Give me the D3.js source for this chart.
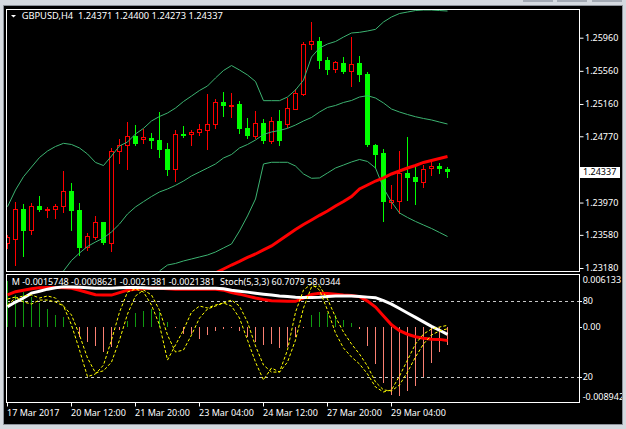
<!DOCTYPE html>
<html>
<head>
<meta charset="utf-8">
<script src="https://cdn.jsdelivr.net/npm/d3@7"></script>
<style>
html,body{margin:0;padding:0;background:#d4d9df;overflow:hidden;}
svg{display:block;}
text{font-family:"Noto Sans",sans-serif;fill:#fff;}
</style>
</head>
<body>
<svg id="chart" width="626" height="429"></svg>
<script>
// ---------- DATA ----------
const symbolLabel = "GBPUSD,H4";
const open  = [1.23482,1.23527,1.23892,1.23635,1.23929,1.23877,1.23889,1.23925,1.24113,1.23880,1.23430,1.23558,1.23732,1.23478,1.24589,1.24661,1.24770,1.24741,1.24749,1.24725,1.24617,1.24372,1.24798,1.24794,1.24818,1.24850,1.24915,1.25184,1.25140,1.25160,1.24870,1.24777,1.24927,1.24717,1.24955,1.24915,1.25103,1.25284,1.25888,1.25920,1.25691,1.25586,1.25658,1.25562,1.25658,1.25522,1.24661,1.24568,1.23981,1.23993,1.24323,1.24279,1.24222,1.24391,1.24411,1.24371];
const high  = [1.23579,1.23973,1.23949,1.23965,1.24049,1.23913,1.23953,1.24355,1.24206,1.23965,1.23599,1.23808,1.23736,1.24625,1.24741,1.24942,1.24903,1.24854,1.24810,1.25060,1.24685,1.24842,1.24894,1.24846,1.24918,1.25280,1.25220,1.25305,1.25289,1.25196,1.24991,1.25075,1.24979,1.24999,1.25087,1.25229,1.25337,1.25908,1.26150,1.25968,1.25727,1.25679,1.25727,1.25968,1.25739,1.25542,1.24677,1.24617,1.24182,1.24592,1.24761,1.24399,1.24423,1.24500,1.24448,1.24400];
const low   = [1.23422,1.23216,1.23325,1.23594,1.23868,1.23796,1.23784,1.23856,1.23639,1.23334,1.23398,1.23534,1.23470,1.23389,1.24444,1.24379,1.24669,1.24693,1.24632,1.24524,1.24303,1.24234,1.24758,1.24669,1.24789,1.24620,1.24874,1.25019,1.25006,1.24813,1.24753,1.24746,1.24693,1.24685,1.24665,1.24886,1.25099,1.25268,1.25824,1.25598,1.25525,1.25542,1.25534,1.25381,1.25441,1.24653,1.24396,1.23748,1.23908,1.23848,1.24005,1.23956,1.24162,1.24306,1.24327,1.24273];
const close = [1.23554,1.23892,1.23630,1.23925,1.23880,1.23896,1.23929,1.24110,1.23868,1.23425,1.23567,1.23732,1.23478,1.24592,1.24661,1.24770,1.24677,1.24761,1.24717,1.24608,1.24367,1.24794,1.24774,1.24822,1.24854,1.24915,1.25180,1.25139,1.25148,1.24858,1.24777,1.24927,1.24717,1.24951,1.24717,1.25108,1.25289,1.25884,1.25917,1.25679,1.25570,1.25663,1.25546,1.25639,1.25513,1.24665,1.24544,1.23977,1.24005,1.24323,1.24270,1.24222,1.24375,1.24411,1.24375,1.24337];

const bbUpper = [1.23920,1.24122,1.24282,1.24399,1.24514,1.24592,1.24647,1.24685,1.24671,1.24629,1.24556,1.24454,1.24417,1.24532,1.24653,1.24701,1.24798,1.24866,1.24955,1.25009,1.25051,1.25111,1.25190,1.25256,1.25323,1.25377,1.25474,1.25564,1.25624,1.25570,1.25510,1.25431,1.25200,1.25200,1.25200,1.25244,1.25329,1.25449,1.25727,1.25836,1.25884,1.25914,1.25968,1.26017,1.26025,1.26041,1.26061,1.26150,1.26210,1.26252,1.26270,1.26288,1.26294,1.26294,1.26288,1.26282];
const bbMiddle = [null,null,null,null,null,null,1.23011,1.23144,1.23271,1.23361,1.23440,1.23494,1.23542,1.23615,1.23711,1.23832,1.23917,1.23981,1.24043,1.24098,1.24134,1.24178,1.24230,1.24291,1.24339,1.24387,1.24436,1.24508,1.24550,1.24629,1.24671,1.24725,1.24792,1.24822,1.24840,1.24866,1.24906,1.24955,1.24997,1.25063,1.25118,1.25142,1.25178,1.25202,1.25244,1.25260,1.25232,1.25172,1.25099,1.25063,1.25033,1.25006,1.24985,1.24967,1.24942,1.24918];
const bbLower = [null,null,null,null,null,null,null,null,null,null,null,null,null,null,null,null,null,null,1.23035,1.23144,1.23216,1.23235,1.23265,1.23289,1.23313,1.23337,1.23373,1.23422,1.23470,1.23627,1.23808,1.24013,1.24436,1.24456,1.24456,1.24456,1.24411,1.24315,1.24263,1.24267,1.24327,1.24387,1.24423,1.24460,1.24490,1.24466,1.24387,1.24146,1.23977,1.23844,1.23790,1.23742,1.23699,1.23657,1.23609,1.23560];
const maLine = [null,null,null,null,null,null,null,null,null,null,null,null,null,null,null,null,null,null,null,null,null,null,null,null,null,1.23072,1.23120,1.23168,1.23216,1.23259,1.23307,1.23349,1.23398,1.23446,1.23512,1.23579,1.23645,1.23705,1.23760,1.23816,1.23868,1.23929,1.23983,1.24043,1.24134,1.24182,1.24230,1.24267,1.24315,1.24351,1.24387,1.24417,1.24454,1.24478,1.24502,1.24526];

const histValues = [0.00545,0.00381,0.00409,0.00351,0.00281,0.00214,0.00144,0.00117,0.00010,-0.00117,-0.00175,-0.00227,-0.00292,-0.00234,-0.00040,0.00077,0.00164,0.00187,0.00214,0.00175,0.00058,-0.00008,-0.00087,-0.00078,-0.00137,-0.00098,-0.00047,-0.00020,-0.00008,-0.00047,-0.00117,-0.00175,-0.00215,-0.00195,-0.00242,-0.00234,-0.00117,-0.00008,0.00138,0.00180,0.00167,0.00140,0.00085,0.00043,-0.00020,-0.00227,-0.00441,-0.00655,-0.00803,-0.00811,-0.00753,-0.00694,-0.00585,-0.00421,-0.00297,-0.0021381];
const redLine = [0.00381,0.00418,0.00436,0.00454,0.00465,0.00468,0.00468,0.00465,0.00459,0.00436,0.00409,0.00383,0.00378,0.00378,0.00407,0.00436,0.00448,0.00454,0.00459,0.00459,0.00454,0.00448,0.00448,0.00448,0.00448,0.00448,0.00448,0.00436,0.00407,0.00389,0.00366,0.00343,0.00325,0.00311,0.00307,0.00304,0.00304,0.00343,0.00386,0.00401,0.00397,0.00389,0.00378,0.00372,0.00360,0.00307,0.00237,0.00132,0.00027,-0.00043,-0.00084,-0.00113,-0.00131,-0.00143,-0.00145,-0.0015748];
const whiteLine = [0.00241,0.00296,0.00343,0.00401,0.00424,0.00448,0.00465,0.00475,0.00475,0.00471,0.00465,0.00459,0.00459,0.00459,0.00465,0.00468,0.00468,0.00465,0.00459,0.00459,0.00459,0.00459,0.00459,0.00459,0.00459,0.00459,0.00459,0.00454,0.00436,0.00424,0.00413,0.00401,0.00389,0.00378,0.00366,0.00360,0.00354,0.00351,0.00351,0.00354,0.00360,0.00366,0.00366,0.00366,0.00360,0.00354,0.00348,0.00313,0.00272,0.00220,0.00167,0.00115,0.00062,0.00009,-0.00037,-0.0008621];
const stochMain = [76.6,82.1,83.7,84.5,82.1,83.7,82.1,75.8,61.0,41.4,20.5,22.6,29.6,49.2,71.0,86.8,89.2,86.8,76.6,61.0,33.5,45.3,57.1,71.0,75.8,74.3,76.6,78.2,75.8,66.4,49.2,31.9,17.9,27.3,24.1,41.4,71.0,88.4,93.1,88.4,72.6,54.7,42.9,35.9,30.4,22.6,12.4,8.5,10.1,21.0,33.5,46.1,53.9,57.8,59.4,60.7079];
const stochSignal = [81.3,82.9,79.0,77.4,80.5,80.5,79.0,75.8,68.8,53.1,35.1,23.4,25.1,31.9,49.2,69.5,83.7,88.4,84.5,72.6,53.1,39.8,41.4,53.1,66.4,73.5,75.8,78.2,80.5,75.8,63.3,44.5,29.6,24.1,24.1,31.9,49.2,74.3,90.8,91.6,81.3,67.2,55.5,46.1,38.2,28.8,16.3,10.1,9.3,14.0,24.1,35.9,46.1,53.1,56.3,58.0344];

const timeTickIndex  = [0, 8, 16, 24, 32, 40, 48];
const timeTickLabels = ["17 Mar 2017","20 Mar 12:00","21 Mar 20:00","23 Mar 04:00","24 Mar 12:00","27 Mar 20:00","29 Mar 04:00"];
const priceTicks = [1.23180,1.23580,1.23970,1.24770,1.25160,1.25560,1.25960];
const macdRange = [-0.008942, 0.006133];
const stochLevels = [80, 20];

// ---------- LAYOUT ----------
const svg = d3.select("#chart");
const PL = 7, PR = 579, MT = 10, MB = 271, IT = 275, IB = 402;
const n = open.length;

const x = d3.scaleLinear().domain([0, n - 1]).range([7, 7 + 8 * (n - 1)]);
const y = d3.scaleLinear().domain([1.2318, 1.2596]).range([268, 37.7]);
const yMacd = d3.scaleLinear().domain(macdRange).range([402.83, 275.17]);
const yStoch = d3.scaleLinear().domain([0, 100]).range([402.83, 275.17]);

const defs = svg.append("defs");
defs.append("clipPath").attr("id","clipMain").append("rect").attr("x",PL).attr("y",MT).attr("width",PR-PL).attr("height",MB-MT);
defs.append("clipPath").attr("id","clipInd").append("rect").attr("x",PL).attr("y",IT).attr("width",PR-PL).attr("height",IB-IT);
defs.append("clipPath").attr("id","clipAll").append("rect").attr("x",4).attr("y",6).attr("width",618).attr("height",418);

// window decorations
[[523,30],[557,30],[592,30]].forEach(([bx,bw]) =>
  svg.append("rect").attr("x",bx).attr("y",0).attr("width",bw).attr("height",2).attr("fill","#a3aab4"));
svg.append("rect").attr("x",3.5).attr("y",5.5).attr("width",619).attr("height",419)
  .attr("fill","#000").attr("stroke","#8d939b");

const all = svg.append("g").attr("clip-path","url(#clipAll)");

// ---------- MAIN PANEL ----------
const gMain = all.append("g").attr("clip-path","url(#clipMain)");
const gC = gMain.append("g").attr("shape-rendering","crispEdges");
open.forEach((o, i) => {
  const c = Math.round(x(i)), cx = c + 0.5;
  const hi = Math.round(y(high[i])), lo = Math.round(y(low[i]));
  const top = Math.round(y(Math.max(o, close[i]))), bot = Math.round(y(Math.min(o, close[i])));
  const bull = close[i] >= o;
  const col = bull ? "#ff0000" : "#00ff00";
  gC.append("line").attr("x1",cx).attr("x2",cx).attr("y1",hi).attr("y2",lo+1).attr("stroke",col);
  if (bull && bot - top >= 2) {
    gC.append("rect").attr("x",c-1.5).attr("y",top+0.5).attr("width",4).attr("height",bot-top)
      .attr("fill","#000").attr("stroke",col);
  } else {
    gC.append("rect").attr("x",c-2).attr("y",top).attr("width",5).attr("height",Math.max(1,bot-top+(bull?1:0)))
      .attr("fill",col);
  }
});

const priceLine = d3.line().defined(d => d != null).x((d, i) => x(i) + 0.5).y(d => y(d));
[bbUpper, bbMiddle, bbLower].forEach(arr =>
  gMain.append("path").datum(arr).attr("d", priceLine).attr("fill","none").attr("stroke","#3cb371").attr("stroke-width",1));
gMain.append("path").datum(maLine).attr("d", priceLine).attr("fill","none").attr("stroke","#ff0000").attr("stroke-width",3);

// ---------- INDICATOR PANEL ----------
const gInd = all.append("g").attr("clip-path","url(#clipInd)");
stochLevels.forEach(v =>
  gInd.append("line").attr("x1",PL).attr("x2",PR).attr("y1",Math.round(yStoch(v))+0.5).attr("y2",Math.round(yStoch(v))+0.5)
    .attr("stroke","#c8c8c8").attr("stroke-dasharray","3,3"));
const z0 = Math.round(yMacd(0));
gInd.append("g").attr("shape-rendering","crispEdges").selectAll("line").data(histValues).join("line")
  .attr("x1",(d,i)=>Math.round(x(i))+0.5).attr("x2",(d,i)=>Math.round(x(i))+0.5)
  .attr("y1",z0).attr("y2",d=>Math.round(yMacd(d)))
  .attr("stroke",d=> d>=0 ? "#109a10" : "#fa8072");
const macdLine = d3.line().x((d,i)=>x(i)+0.5).y(d=>yMacd(d));
gInd.append("path").datum(redLine).attr("d",macdLine).attr("fill","none").attr("stroke","#ff0000").attr("stroke-width",3);
gInd.append("path").datum(whiteLine).attr("d",macdLine).attr("fill","none").attr("stroke","#ffffff").attr("stroke-width",3);
const stLine = d3.line().x((d,i)=>x(i)+0.5).y(d=>yStoch(d));
[stochSignal, stochMain].forEach(arr =>
  gInd.append("path").datum(arr).attr("d",stLine).attr("fill","none").attr("stroke","#ffff00")
    .attr("stroke-width",1).attr("stroke-dasharray","3,2"));

// ---------- FRAMES ----------
const fr = all.append("g").attr("fill","none").attr("stroke","#fff").attr("shape-rendering","crispEdges");
fr.append("rect").attr("x",6.5).attr("y",9.5).attr("width",573).attr("height",262);
fr.append("rect").attr("x",6.5).attr("y",274.5).attr("width",573).attr("height",128);

// ---------- AXES ----------
const pAxis = all.append("g").attr("transform","translate(579.5,0)")
  .call(d3.axisRight(y).tickValues(priceTicks).tickSize(4).tickPadding(1.5).tickFormat(d3.format(".5f")));
pAxis.select(".domain").remove();
pAxis.selectAll("line").attr("stroke","#fff");
pAxis.selectAll("text").attr("fill","#fff").style("font-size","9px").style("font-family","'Noto Sans',sans-serif");

const tAxis = all.append("g").attr("transform","translate(0,402.5)")
  .call(d3.axisBottom(x).tickValues(timeTickIndex).tickSize(4).tickPadding(3).tickFormat((d,i)=>timeTickLabels[i]));
tAxis.select(".domain").remove();
tAxis.selectAll("line").attr("stroke","#fff");
tAxis.selectAll("text").attr("fill","#fff").attr("text-anchor","start").attr("x",-0.5)
  .style("font-size","9px").style("font-family","'Noto Sans',sans-serif");

// indicator scale labels
const indLabels = [
  {t: macdRange[1].toFixed(6), y: Math.max(yMacd(macdRange[1]), 280)},
  {t: String(stochLevels[0]), y: yStoch(stochLevels[0])},
  {t: "0.00", y: yMacd(0)},
  {t: String(stochLevels[1]), y: yStoch(stochLevels[1])},
  {t: macdRange[0].toFixed(6), y: Math.min(yMacd(macdRange[0]), 396.7)}
];
indLabels.forEach(l => {
  all.append("text").attr("x",582.7).attr("y",l.y).attr("dy","0.35em").style("font-size","9px").text(l.t);
});
[stochLevels[0], 0, stochLevels[1]].forEach((v,k) => {
  const yy = Math.round(k===1 ? yMacd(v) : yStoch(v)) + 0.5;
  all.append("line").attr("x1",579).attr("x2",582).attr("y1",yy).attr("y2",yy).attr("stroke","#fff");
});

// current price box
const last = close[n-1];
const yl = y(last);
all.append("rect").attr("x",580).attr("y",Math.round(yl)-5).attr("width",40).attr("height",11).attr("fill","#fff");
all.append("text").attr("x",583).attr("y",yl).attr("dy","0.35em").style("font-size","9px").style("fill","#000")
  .text(last.toFixed(5));

// ---------- LEGENDS ----------
all.append("path").attr("d","M11,15 L16,15 L13.5,17.6 Z").attr("fill","#fff");
all.append("text").attr("x",21.7).attr("y",19.3).style("font-size","9.3px").style("white-space","pre")
  .text(`${symbolLabel}  ${open[n-1].toFixed(5)} ${high[n-1].toFixed(5)} ${low[n-1].toFixed(5)} ${close[n-1].toFixed(5)}`);
const hl = histValues[n-1];
all.append("text").attr("x",11.7).attr("y",285).style("font-size","9px")
  .text(`M ${redLine[n-1].toFixed(7)} ${whiteLine[n-1].toFixed(7)} ${hl.toFixed(7)} ${hl.toFixed(7)}`);
all.append("text").attr("x",220).attr("y",285).style("font-size","9px")
  .text(`Stoch(5,3,3) ${stochMain[n-1].toFixed(4)} ${stochSignal[n-1].toFixed(4)}`);
</script>
</body>
</html>
